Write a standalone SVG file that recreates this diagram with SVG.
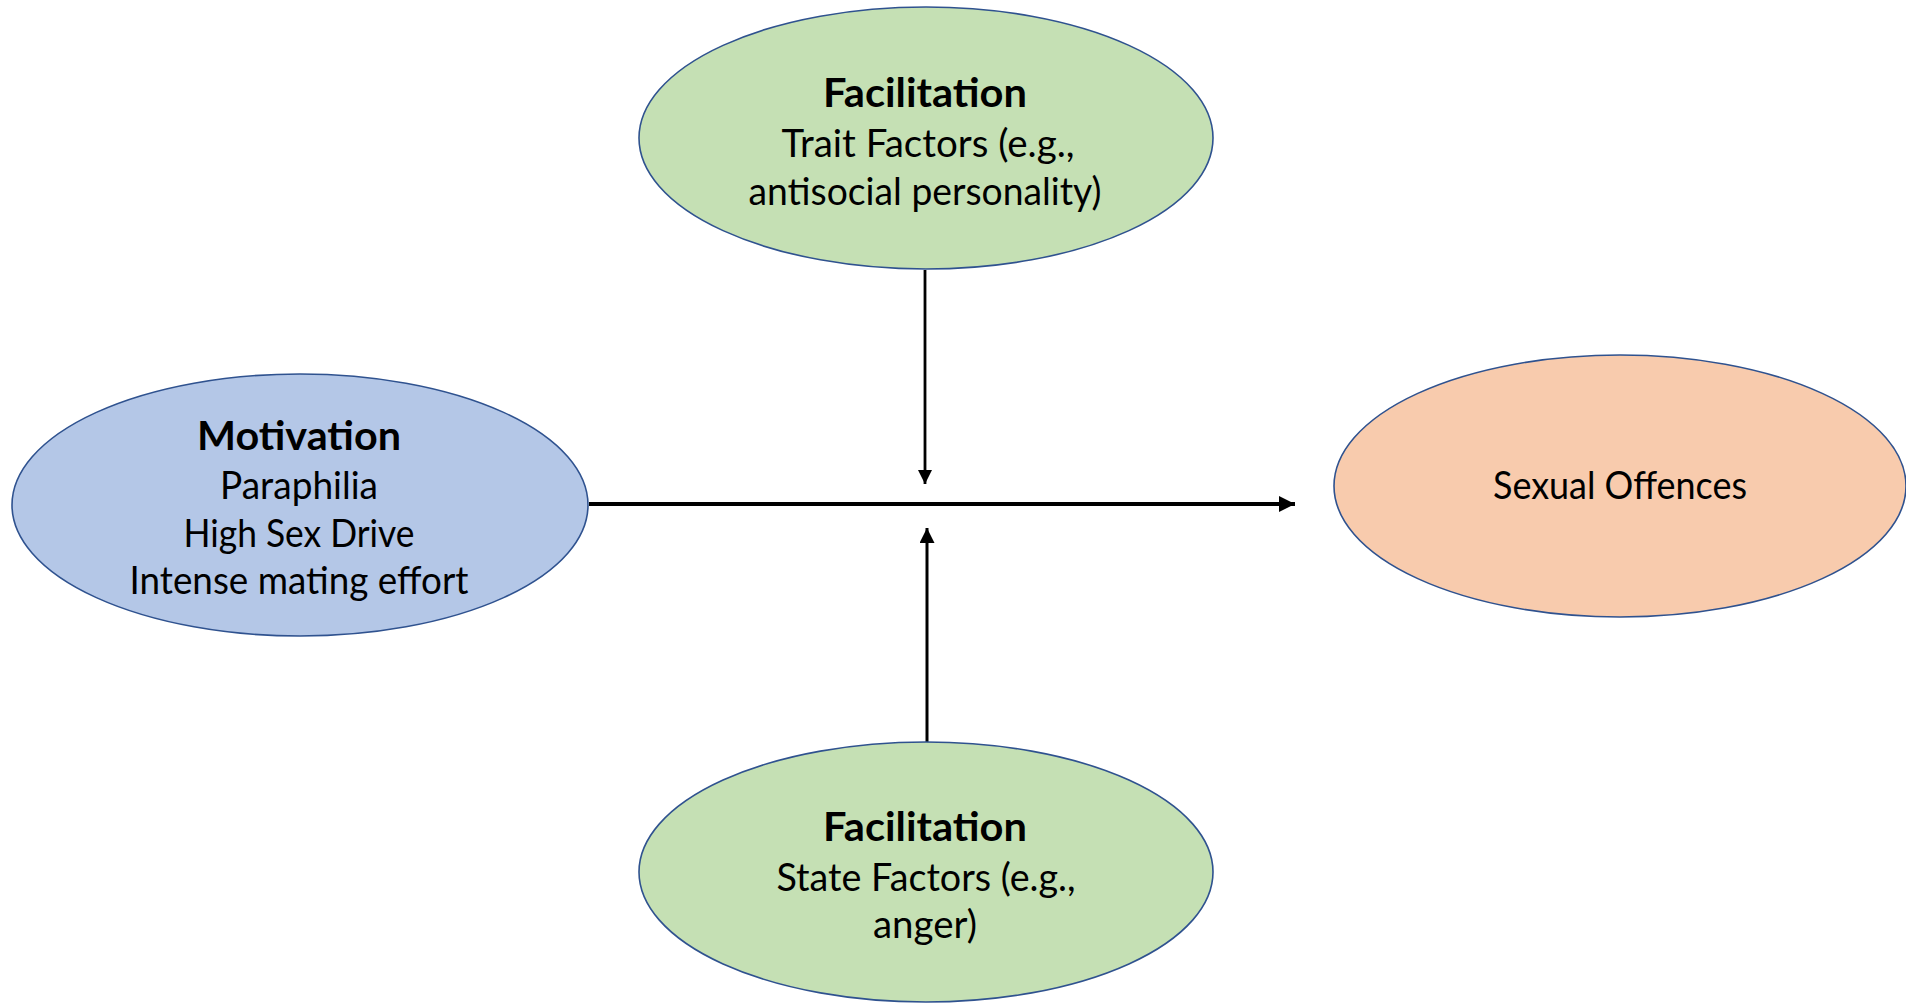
<svg xmlns="http://www.w3.org/2000/svg" width="1906" height="1003" viewBox="0 0 1906 1003">
<style>
.node{stroke:#2F528F;stroke-width:1.6}
.green{fill:#C5E0B4}
.blue{fill:#B4C7E7}
.orange{fill:#F8CBAD}
text{font-family:Lato,"Open Sans","Liberation Sans",sans-serif;font-size:38.5px;fill:#000;text-anchor:middle}
.b{font-weight:bold;font-size:39.5px}
.conn{stroke:#000;fill:none}
</style>
<defs>
<marker id="ah" viewBox="0 0 10 10" refX="10" refY="5" markerWidth="4" markerHeight="4" orient="auto" markerUnits="strokeWidth">
<path d="M0,0 L10,5 L0,10 z" fill="#000"/>
</marker>
<marker id="ahs" viewBox="0 0 10 10" refX="10" refY="5" markerWidth="5" markerHeight="5" orient="auto" markerUnits="strokeWidth">
<path d="M0,0 L10,5 L0,10 z" fill="#000"/>
</marker>
</defs>
<rect width="1906" height="1003" fill="#fff"/>
<g id="connectors">
<line class="conn" x1="589" y1="504" x2="1295" y2="504" stroke-width="4" marker-end="url(#ah)"/>
<line class="conn" x1="925" y1="270" x2="925" y2="484" stroke-width="2.8" marker-end="url(#ahs)"/>
<line class="conn" x1="927" y1="742" x2="927" y2="528" stroke-width="3" marker-end="url(#ahs)"/>
</g>
<g id="node-trait">
<ellipse class="node green" cx="926" cy="138" rx="287" ry="131"/>
<text class="b" x="925" y="107" textLength="204" lengthAdjust="spacingAndGlyphs">Facilitation</text>
<text x="928" y="157" textLength="293" lengthAdjust="spacingAndGlyphs">Trait Factors (e.g.,</text>
<text x="925" y="205" textLength="353" lengthAdjust="spacingAndGlyphs">antisocial personality)</text>
</g>
<g id="node-motivation">
<ellipse class="node blue" cx="300" cy="505" rx="288" ry="131"/>
<text class="b" x="299" y="450" textLength="204" lengthAdjust="spacingAndGlyphs">Motivation</text>
<text x="299" y="499" textLength="158" lengthAdjust="spacingAndGlyphs">Paraphilia</text>
<text x="299" y="547" textLength="231" lengthAdjust="spacingAndGlyphs">High Sex Drive</text>
<text x="299" y="594" textLength="339" lengthAdjust="spacingAndGlyphs">Intense mating effort</text>
</g>
<g id="node-offences">
<ellipse class="node orange" cx="1620" cy="486" rx="286" ry="131"/>
<text x="1620" y="499" textLength="254" lengthAdjust="spacingAndGlyphs">Sexual Offences</text>
</g>
<g id="node-state">
<ellipse class="node green" cx="926" cy="872" rx="287" ry="130"/>
<text class="b" x="925" y="841" textLength="204" lengthAdjust="spacingAndGlyphs">Facilitation</text>
<text x="926" y="891" textLength="299" lengthAdjust="spacingAndGlyphs">State Factors (e.g.,</text>
<text x="925" y="938" textLength="104" lengthAdjust="spacingAndGlyphs">anger)</text>
</g>
</svg>
